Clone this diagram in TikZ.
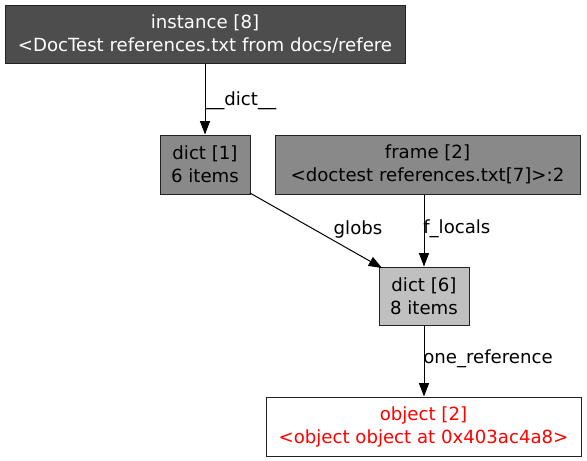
\documentclass[tikz,border=0pt]{standalone}
\usepackage{fontspec}
\setmainfont{DejaVu Sans}
\usetikzlibrary{arrows.meta}
\definecolor{dkfill}{HTML}{4D4D4D}
\definecolor{mdfill}{HTML}{898989}
\definecolor{ltfill}{HTML}{C0C0C0}
\definecolor{edgecol}{HTML}{222222}
\tikzset{
  box/.style={draw=edgecol, line width=0.75pt, align=center, inner sep=0pt,
    font=\fontsize{13.6}{17.25}\selectfont},
  conn/.style={draw=black, line width=0.75pt, -{Triangle[length=10pt,width=7.5pt]}},
  elabel/.style={font=\fontsize{13.6}{16}\selectfont, inner sep=0pt, text=black}
}
\begin{document}
\begin{tikzpicture}[x=0.75pt,y=-0.75pt]
\useasboundingbox[fill=white] (0,0) rectangle (587,461);
\node[box, fill=dkfill, text=white, minimum width=300pt, minimum height=43.5pt] (inst) at (205,34) {instance [8]\\ <DocTest references.txt from docs/refere};
\node[box, fill=mdfill, minimum width=67.5pt, minimum height=44.25pt] (d1) at (205,164.5) {dict [1]\\ 6 items};
\node[box, fill=mdfill, minimum width=228.75pt, minimum height=44.25pt] (fr) at (427.5,164.5) {frame [2]\\ <doctest references.txt[7]>:2};
\node[box, fill=ltfill, minimum width=67.5pt, minimum height=43.5pt] (d6) at (424,296) {dict [6]\\ 8 items};
\node[box, fill=white, text=red, minimum width=236.25pt, minimum height=44.25pt] (obj) at (423.5,426.5) {object [2]\\ <object object at 0x403ac4a8>};
\draw[conn] (inst.south) -- (d1.north);
\coordinate (d1out) at (250,193);
\coordinate (d6in) at (382,268);
\draw[conn] (d1out) -- (d6in);
\draw[conn] (fr.south -| d6.north) -- (d6.north);
\draw[conn] (d6.south) -- (obj.north -| d6.south);
\node[elabel, anchor=west] (l1) at (206,101) {\_\_dict\_\_};
\node[elabel] (l2) at (358,229) {globs};
\node[elabel, anchor=west] (l3) at (423,229) {f\_locals};
\node[elabel, anchor=west] (l4) at (423,359) {one\_reference};
\end{tikzpicture}
\end{document}
